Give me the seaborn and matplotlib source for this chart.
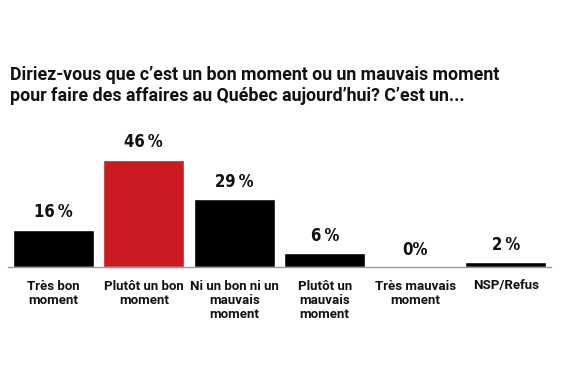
import matplotlib
matplotlib.use('Agg')
import matplotlib.pyplot as plt
from matplotlib import font_manager
import seaborn as sns
import pandas as pd

# survey answers
categories = ['Très bon\nmoment', 'Plutôt un bon\nmoment', 'Ni un bon ni un\nmauvais\nmoment',
              'Plutôt un\nmauvais\nmoment', 'Très mauvais\nmoment', 'NSP/Refus']
values = [16, 46, 29, 6, 0, 2]
labels = ['16\u2009%', '46\u2009%', '29\u2009%', '6\u2009%', '0%', '2\u2009%']
colors = ['#000000', '#cc1a23', '#000000', '#000000', '#000000', '#000000']

title = ("Diriez-vous que c’est un bon moment ou un mauvais moment\n"
         "pour faire des affaires au Québec aujourd’hui? C’est un...")

# look for a bold condensed face for the percentages
cands = [f for f in font_manager.fontManager.ttflist
         if ('Narrow' in f.name or 'Condensed' in f.name or f.stretch == 'condensed'
             or 'Condensed' in f.fname or 'Narrow' in f.fname)
         and (f.weight in ('bold', 700, 'heavy', 800, 900) or 'Bold' in f.fname)
         and 'Italic' not in f.fname and 'Oblique' not in f.fname]
cands.sort(key=lambda f: ('Liberation' not in f.fname, f.fname))

df = pd.DataFrame({'cat': categories, 'val': values})

sns.set_style('white')
plt.rcParams['font.family'] = ['Roboto', 'DejaVu Sans']

fig = plt.figure(figsize=(5.7, 3.8), dpi=100)
ax = fig.add_axes([8 / 570, 113 / 380, 543 / 570, 116.5 / 380])

sns.barplot(data=df, x='cat', y='val', hue='cat', palette=colors, legend=False,
            width=0.9, saturation=1, ax=ax)

ax.set_xlim(-0.5, 5.5)
ax.set_ylim(0, 50)
sns.despine(ax=ax, left=True)
ax.spines['bottom'].set_color('#999999')
ax.spines['bottom'].set_linewidth(1)
ax.set_yticks([])
ax.set_xlabel('')
ax.set_ylabel('')
ax.tick_params(axis='x', length=0, pad=9)
for t in ax.get_xticklabels():
    t.set_fontsize(9.5)
    t.set_fontweight('bold')
    t.set_color('#111111')
    t.set_verticalalignment('top')
    t.set_linespacing(1.1)

if cands:
    pct_font = font_manager.FontProperties(fname=cands[0].fname, size=12)
else:
    pct_font = font_manager.FontProperties(family='DejaVu Sans', weight='bold', size=11)

# percentage labels above bars
for i, (v, lab) in enumerate(zip(values, labels)):
    ax.annotate(lab, (i, v), xytext=(0, 6), textcoords='offset points',
                ha='center', va='bottom', fontproperties=pct_font, color='#111111')

fig.text(10 / 570, 1 - 66 / 380, title, ha='left', va='top', fontsize=12.8,
         fontweight='bold', color='#111111', linespacing=1.2)

fig.savefig('out.png', dpi=100)
